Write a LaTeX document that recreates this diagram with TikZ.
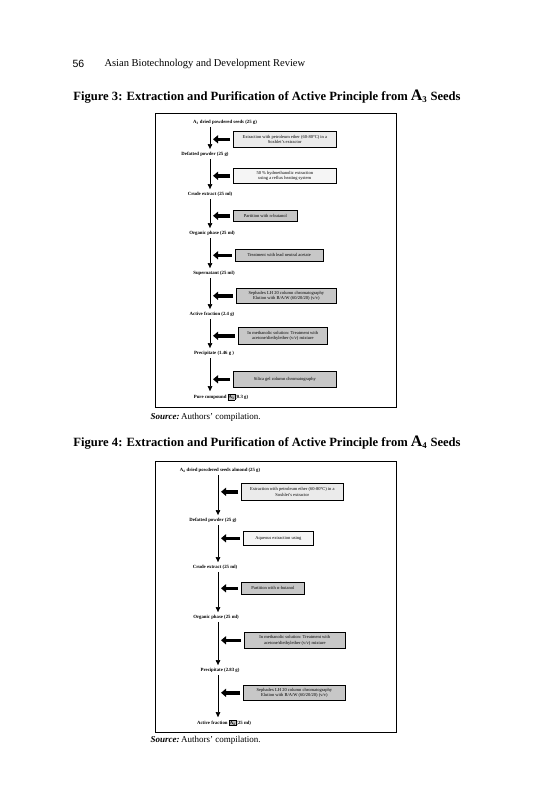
\documentclass[tikz,border=0pt]{standalone}
\usepackage{fontspec}
\setmainfont{Liberation Serif}
\newfontfamily\hdsans{Liberation Sans}
\usepackage{tikz}
\usetikzlibrary{arrows.meta,positioning}

% boxed compound code inside a label
\newcommand{\cmpd}[1]{{\setlength\fboxsep{0.4pt}\setlength\fboxrule{0.6pt}\fcolorbox{black}{black!25}{#1}}}
\newcommand{\bigA}[1]{{\fontsize{16}{16}\selectfont A}\textsubscript{#1}}

\begin{document}
\begin{tikzpicture}[
  x=1pt, y=-1pt,
  lbl/.style={font=\fontsize{4.8}{5.5}\selectfont\bfseries, inner sep=0.5pt},
  pbox/.style={draw, line width=0.6pt, anchor=north west, align=center, inner sep=0.5pt, font=\fontsize{4.5}{5.5}\selectfont},
  lite/.style={pbox, fill=black!8},
  dark/.style={pbox, fill=black!22},
  sp/.style={line width=0.5pt, -{Triangle[length=5pt,width=4.5pt]}, shorten <=2pt, shorten >=2pt},
  blk/.style={line width=3.5pt, -{Triangle[length=5pt,width=8pt]}, shorten <=3pt, shorten >=3pt},
  frm/.style={draw, line width=0.9pt},
  ttl/.style={font=\fontsize{12.6}{14}\selectfont\bfseries},
  src/.style={anchor=west, font=\fontsize{9}{10}\selectfont}
]
\useasboundingbox (0,0) rectangle (540,810);

% running head
\node[anchor=west, font=\hdsans\fontsize{10.5}{12}\selectfont] (pg) at (69,64) {56};
\node[anchor=west, font=\fontsize{10.5}{12}\selectfont] (run) at (101,64) {Asian Biotechnology and Development Review};

%% Figure 3
\node[ttl] (t3) at (267,97) {Figure 3: Extraction and Purification of Active Principle from \bigA{3} Seeds};
\draw[frm] (155,113) rectangle (396,407);
\coordinate (sp3) at (210,0);

\node[lbl] (a1) at (225,122) {A\textsubscript{3} dried powdered seeds (25 g)};
\node[lbl] (a2) at (205,154) {Defatted powder (25 g)};
\node[lbl] (a3) at (210,194) {Crude extract (25 ml)};
\node[lbl] (a4) at (212,233) {Organic phase (25 ml)};
\node[lbl] (a5) at (214,273) {Supernatant (25 ml)};
\node[lbl] (a6) at (212,314) {Active fraction (2.4 g)};
\node[lbl] (a7) at (214,353) {Precipitate (1.46 g )};
\node[lbl] (a8) at (221,397) {Pure compound \cmpd{A\textsubscript{3}}(0.3 g)};

\node[lite, minimum width=103pt, minimum height=16pt] (b1) at (233,131) {Extraction with petroleum ether (60-80\textdegree C) in a\\Soxhlet's extractor};
\node[lite, minimum width=103pt, minimum height=15pt, fill=black!4] (b2) at (233,168) {50 \% hydroethanolic extraction\\using a reflux heating system};
\node[dark, minimum width=64pt, minimum height=11pt] (b3) at (233,210) {Partition with n-butanol};
\node[dark, minimum width=88pt, minimum height=12pt] (b4) at (235,249) {Treatment with lead neutral acetate};
\node[dark, minimum width=100pt, minimum height=15pt] (b5) at (236,288) {Sephadex LH 20 column chromatography\\Elution with B/A/W (60/20/20) (v/v)};
\node[dark, minimum width=89pt, minimum height=17pt] (b6) at (238,327) {In methanolic solution: Treatment with\\acetone/diethylether (v/v) mixture};
\node[dark, minimum width=103pt, minimum height=16pt] (b7) at (233,371) {Silica gel column chromatography};

\draw[sp] (a1.south -| sp3) -- (a2.north -| sp3);
\draw[sp] (a2.south -| sp3) -- (a3.north -| sp3);
\draw[sp] (a3.south -| sp3) -- (a4.north -| sp3);
\draw[sp] (a4.south -| sp3) -- (a5.north -| sp3);
\draw[sp] (a5.south -| sp3) -- (a6.north -| sp3);
\draw[sp] (a6.south -| sp3) -- (a7.north -| sp3);
\draw[sp] (a7.south -| sp3) -- (a8.north -| sp3);
\foreach \b in {b1,b2,b3,b4,b5,b6,b7}
  \draw[blk] (\b.west) -- (\b.west -| sp3);

\node[src] (s3) at (147,417) {\textbf{\textit{Source:}}\,Authors' compilation.};

%% Figure 4
\node[ttl] (t4) at (267,443) {Figure 4: Extraction and Purification of Active Principle from \bigA{4} Seeds};
\draw[frm] (155,461) rectangle (396,732);
\coordinate (sp4) at (218,0);

\node[lbl] (c1) at (220,470) {A\textsubscript{4} dried powdered seeds almond (25 g)};
\node[lbl] (c2) at (213,520) {Defatted powder (25 g)};
\node[lbl] (c3) at (215,567) {Crude extract (25 ml)};
\node[lbl] (c4) at (216,617) {Organic phase (25 ml)};
\node[lbl] (c5) at (220,670) {Precipitate (2.83 g)};
\node[lbl] (c6) at (224,723) {Active fraction \cmpd{A\textsubscript{4}}(25 ml)};

\node[lite, minimum width=102pt, minimum height=17pt] (d1) at (241,483) {Extraction with petroleum ether (60-80\textdegree C) in a\\Soxhlet's extractor};
\node[lite, minimum width=70pt, minimum height=14pt, fill=black!4] (d2) at (243,531) {Aqueous extraction using};
\node[dark, minimum width=63pt, minimum height=12pt] (d3) at (241,582) {Partition with n-butanol};
\node[dark, minimum width=101pt, minimum height=16pt] (d4) at (244,632) {In methanolic solution: Treatment with\\acetone/diethylether (v/v) mixture};
\node[dark, minimum width=102pt, minimum height=15pt] (d5) at (243,685) {Sephadex LH 20 column chromatography\\Elution with B/A/W (60/20/20) (v/v)};

\draw[sp] (c1.south -| sp4) -- (c2.north -| sp4);
\draw[sp] (c2.south -| sp4) -- (c3.north -| sp4);
\draw[sp] (c3.south -| sp4) -- (c4.north -| sp4);
\draw[sp] (c4.south -| sp4) -- (c5.north -| sp4);
\draw[sp] (c5.south -| sp4) -- (c6.north -| sp4);
\foreach \b in {d1,d2,d3,d4,d5}
  \draw[blk] (\b.west) -- (\b.west -| sp4);

\node[src] (s4) at (147,740) {\textbf{\textit{Source:}}\,Authors' compilation.};
\end{tikzpicture}
\end{document}
